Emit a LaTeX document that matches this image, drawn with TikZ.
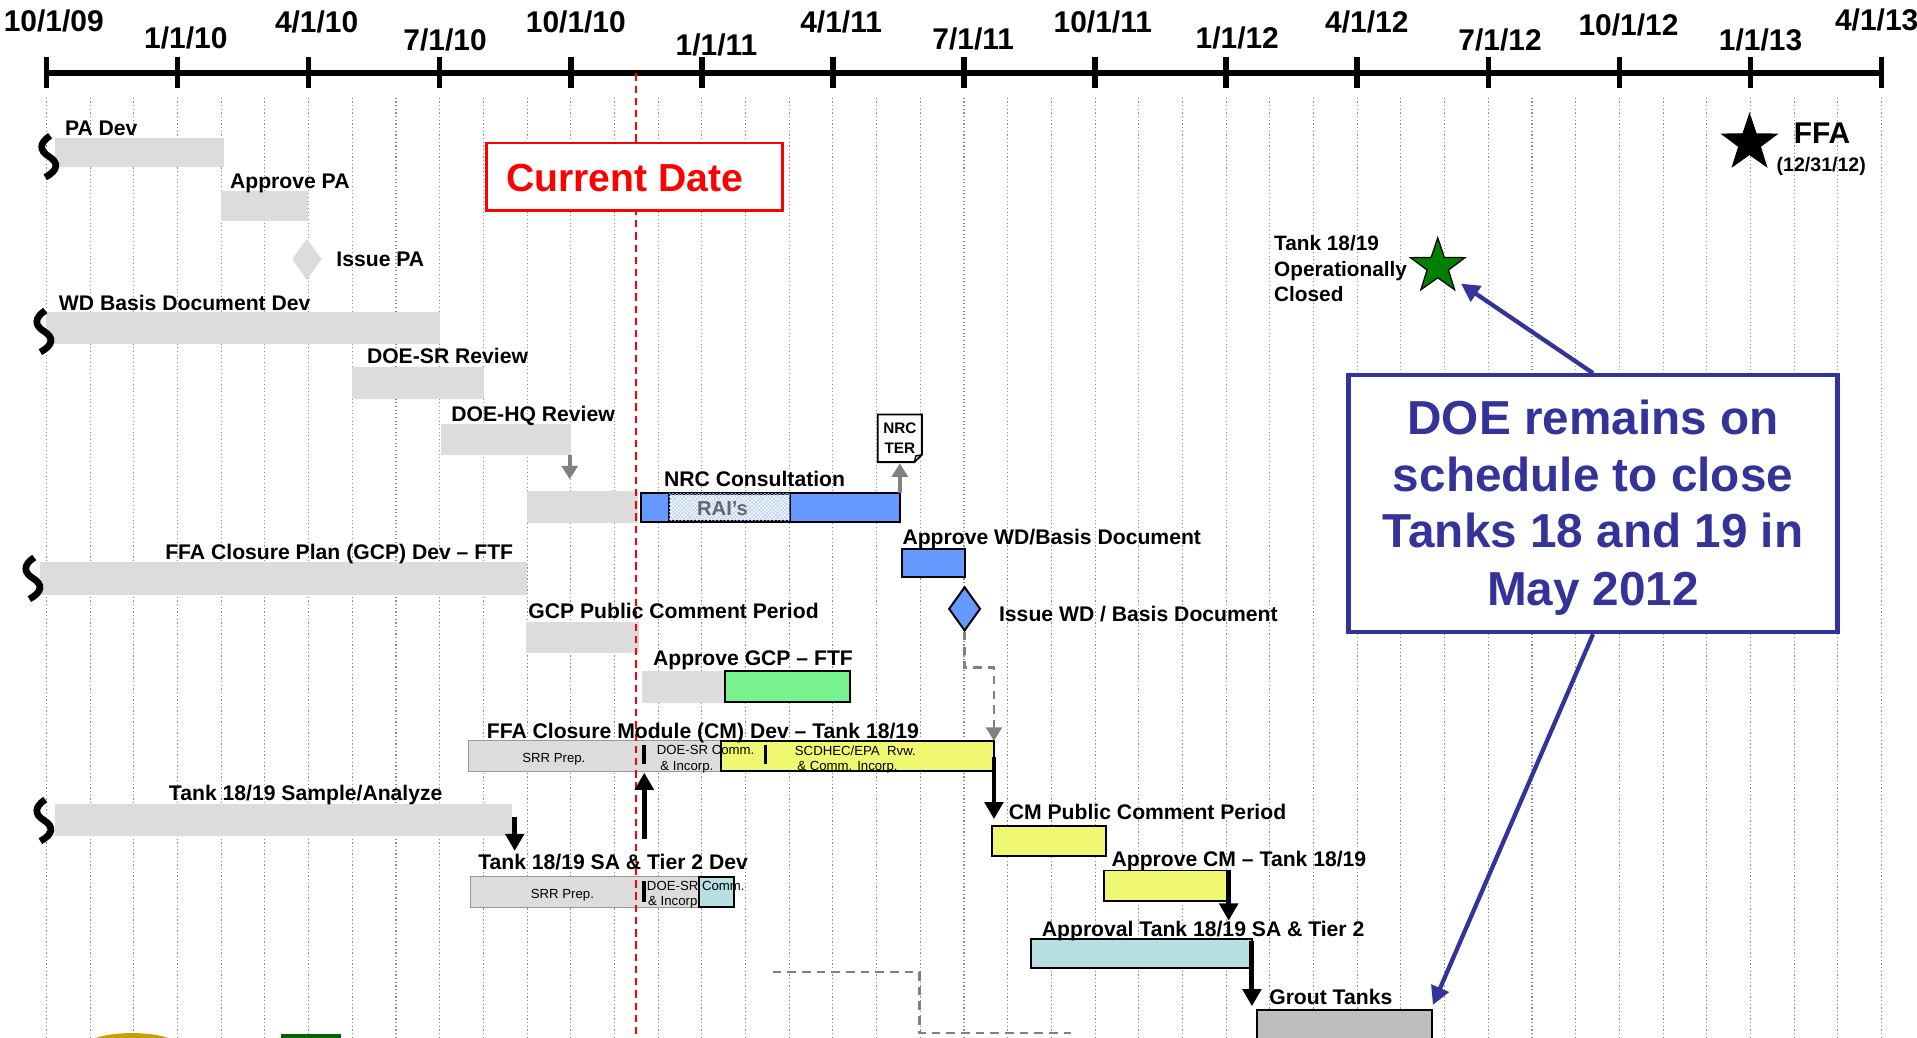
\documentclass[tikz,border=0pt]{standalone}
\usepackage{fontspec}
\setmainfont{Liberation Sans}
\usetikzlibrary{arrows.meta,shapes.geometric,patterns,calc,fit}
\definecolor{bargray}{HTML}{DCDCDC}
\definecolor{barblue}{HTML}{6699FF}
\definecolor{bargreen}{HTML}{77F28E}
\definecolor{baryellow}{HTML}{EFF870}
\definecolor{barcyan}{HTML}{B8DFE3}
\definecolor{groutgray}{HTML}{BEBEBE}
\definecolor{doeblue}{HTML}{333399}
\definecolor{gridgray}{HTML}{8C8C8C}
\definecolor{goldish}{HTML}{C9A000}
\definecolor{darkgrn}{HTML}{006400}
\definecolor{stargreen}{HTML}{008000}
\tikzset{
  gbar/.style={fill=bargray, inner sep=0pt, outer sep=0pt},
  cbar/.style={draw=black, line width=1.6pt, inner sep=0pt, outer sep=0pt},
  lbl/.style={font=\fontsize{17.3}{20}\selectfont\bfseries, anchor=base west, inner sep=0pt},
  smalltxt/.style={font=\fontsize{10.8}{12}\selectfont, anchor=base west, inner sep=0pt},
  ticklbl/.style={font=\fontsize{24.5}{28}\selectfont\bfseries, inner sep=0pt},
  blkarr/.style={line width=4pt, -{Triangle[width=15pt,length=14pt]}},
  grayarr/.style={draw=gray, line width=3.5pt, -{Triangle[width=13pt,length=11pt]}},
  dashconn/.style={draw=gray, line width=2pt, dash pattern=on 7pt off 5pt},
  doearr/.style={draw=doeblue, line width=3.5pt, -{Triangle[width=15pt,length=15pt]}},
  gridline/.style={draw=gridgray, line width=0.9pt, dash pattern=on 1pt off 2pt},
  brk/.pic={\draw[line width=5.5pt] (1,-17) .. controls (-8,-11) and (-8,-5) .. (0,0) .. controls (8,5) and (8,11) .. (-3,17);},
}
\begin{document}
\begin{tikzpicture}[x=1pt,y=-1pt]
\useasboundingbox (0,0) rectangle (1568,849);
\clip (0,0) rectangle (1568,849);
\fill[white] (0,0) rectangle (1568,849);

% monthly grid
\foreach \m in {0,...,42} \draw[gridline] ({38+35.738*\m},80) -- ({38+35.738*\m},849);

% time axis
\draw[line width=5pt] (38,60) -- (1539,60);
\foreach \m in {0,3,...,42} \draw[line width=4.5pt] ({38+35.738*\m},47) -- ({38+35.738*\m},72);
\node[ticklbl] (d0) at (44,17) {10/1/09};
\node[ticklbl] (d1) at (152,31) {1/1/10};
\node[ticklbl] (d2) at (259,18) {4/1/10};
\node[ticklbl] (d3) at (364,33) {7/1/10};
\node[ticklbl] (d4) at (471,18) {10/1/10};
\node[ticklbl] (d5) at (586,37) {1/1/11};
\node[ticklbl] (d6) at (688,18) {4/1/11};
\node[ticklbl] (d7) at (796,32) {7/1/11};
\node[ticklbl] (d8) at (902,18) {10/1/11};
\node[ticklbl] (d9) at (1012,31) {1/1/12};
\node[ticklbl] (d10) at (1118,18) {4/1/12};
\node[ticklbl] (d11) at (1227,33) {7/1/12};
\node[ticklbl] (d12) at (1332,20) {10/1/12};
\node[ticklbl] (d13) at (1440,33) {1/1/13};
\node[ticklbl] (d14) at (1535,16) {4/1/13};

% bars
\node[gbar, fit={(45,113)(183,137)}] (bPA) {};
\node[gbar, fit={(181,156)(252,181)}] (bAPA) {};
\node[diamond, fill=bargray, inner sep=0pt, minimum width=24pt, minimum height=34pt] (dPA) at (251,212) {};
\node[gbar, fit={(38,255)(360,281)}] (bWD) {};
\node[gbar, fit={(288,300)(396,326)}] (bSR) {};
\node[gbar, fit={(361,347)(467,372)}] (bHQ) {};
\node[gbar, fit={(431,402)(522,428)}] (bNRCg) {};
\node[cbar, fill=barblue, fit={(524,403)(736,427)}] (bNRC) {};
\node[cbar, fill=white, postaction={pattern=crosshatch, pattern color=barblue!55}, fit={(547,404)(646,426)}] (bRAI) {};
\node[cbar, fill=barblue, fit={(738,449)(789,472)}] (bAWD) {};
\node[diamond, draw=black, line width=1.6pt, fill=barblue, inner sep=0pt, minimum width=26pt, minimum height=36pt] (dWD) at (789,498) {};
\node[gbar, fit={(33,460)(431,487)}] (bGCP) {};
\node[gbar, fit={(430,509)(523,534)}] (bGPC) {};
\node[gbar, fit={(525,549)(593,575)}] (bAGCPg) {};
\node[cbar, fill=bargreen, fit={(593,549)(695,574)}] (bAGCP) {};
\node[gbar, draw=gray!80, line width=0.8pt, fit={(383,606)(590,631)}] (bCMg) {};
\node[cbar, fill=baryellow, fit={(590,606)(813,631)}] (bCMy) {};
\node[gbar, fit={(45,658)(419,684)}] (bSA) {};
\node[gbar, draw=gray!80, line width=0.8pt, fit={(385,717)(572,742)}] (bT2g) {};
\node[cbar, fill=barcyan, fit={(572,717)(600,742)}] (bT2) {};
\node[cbar, fill=baryellow, fit={(811,676)(905,700)}] (bCMP) {};
\node[cbar, fill=baryellow, fit={(903,712)(1005,737)}] (bACM) {};
\node[cbar, fill=barcyan, fit={(843,768)(1024,792)}] (bAT2) {};
\node[cbar, fill=groutgray, fit={(1028,826)(1171,870)}] (bGT) {};

% break symbols
\pic at (40,128) {brk};
\pic at (36,271) {brk};
\pic at (27,473) {brk};
\pic at (36,671) {brk};

% texts inside bars
\node[font=\fontsize{16.5}{18}\selectfont\bfseries, text=black!60, anchor=base, inner sep=0pt] (tRAI) at (591,422) {RAI’s};
\node[smalltxt, anchor=base] (sCM1) at (453,624) {SRR Prep.};
\node[smalltxt] (sCM2) at (537,617) {DOE-SR Comm.};
\node[smalltxt] (sCM3) at (540,630) {\& Incorp.};
\node[smalltxt] (sCM4) at (650,618) {SCDHEC/EPA\ \ Rvw.};
\node[smalltxt] (sCM5) at (652,630) {\& Comm. Incorp.};
\node[smalltxt, anchor=base] (sT1) at (460,735) {SRR Prep.};
\node[smalltxt] (sT2) at (529,728) {DOE-SR Comm.};
\node[smalltxt] (sT3) at (530,741) {\& Incorp.};
\draw[line width=3pt] (527,609) -- (527,625);
\draw[line width=3pt] (626,609) -- (626,625);
\draw[line width=3pt] (527,721) -- (527,738);

% bottom decorations
\fill[goldish] (108,857) ellipse (40 and 12);
\fill[darkgrn] (230,846) rectangle (279,856);
\draw[dashconn] (632,795) -- (752,795) -- (752,845) -- (876,845);

% current date
\draw[red, line width=1.5pt, dash pattern=on 6pt off 4pt] (520,60) -- (520,849);
\node[draw=red, line width=2pt, fill=white, inner sep=0pt, fit={(398,117)(640,172)}] (cdbox) {};
\node[font=\fontsize{32}{36}\selectfont\bfseries, text=red, anchor=base, inner sep=0pt] (cdtxt) at (511,157) {Current Date};

% NRC TER document
\draw[line width=1.5pt, fill=white] (718,339) -- (754,339) -- (754,372) -- (748,378) -- (718,378) -- cycle;
\draw[line width=1.2pt] (754,372) -- (749,373) -- (748,378);
\node[font=\fontsize{12.5}{16}\selectfont\bfseries, align=center, inner sep=0pt] (ter) at (736,358.5) {NRC\\TER};
\coordinate (terb) at (736,379);

% connectors
\coordinate (hqa) at (466,392);
\draw[grayarr] (bHQ.south east) ++(-1,0) -- (hqa);
\draw[grayarr] (bNRC.north east) -- (terb);
\draw[dashconn, -{Triangle[width=13pt,length=11pt]}] (dWD.south) -- ++(0,29) -| (bCMy.north east);
\coordinate (a1s) at (813,619); \coordinate (a1e) at (813,670);
\draw[blkarr] (a1s) -- (a1e);
\coordinate (a2s) at (421,668); \coordinate (a2e) at (421,696);
\draw[blkarr] (a2s) -- (a2e);
\coordinate (a3s) at (527,686); \coordinate (a3e) at (527,632);
\draw[blkarr] (a3s) -- (a3e);
\coordinate (a4s) at (1005,712); \coordinate (a4e) at (1005,753);
\draw[blkarr] (a4s) -- (a4e);
\coordinate (a5s) at (1024,770); \coordinate (a5e) at (1024,823);
\draw[blkarr] (a5s) -- (a5e);

% task labels
\node[lbl] (tPA) at (53,111) {PA Dev};
\node[lbl] (tAPA) at (188,154) {Approve PA};
\node[lbl] (tIPA) at (275,218) {Issue PA};
\node[lbl] (tWD) at (48,254) {WD Basis Document Dev};
\node[lbl] (tSR) at (300,297) {DOE-SR Review};
\node[lbl] (tHQ) at (369,345) {DOE-HQ Review};
\node[lbl] (tNRC) at (543,398) {NRC Consultation};
\node[lbl] (tAWD) at (738,445) {Approve WD/Basis Document};
\node[lbl] (tGCP) at (135,458) {FFA Closure Plan (GCP) Dev – FTF};
\node[lbl] (tIWD) at (817,508) {Issue WD / Basis Document};
\node[lbl] (tGPC) at (432,506) {GCP Public Comment Period};
\node[lbl] (tAGCP) at (534,544) {Approve GCP – FTF};
\node[lbl] (tCM) at (398,604) {FFA Closure Module (CM) Dev – Tank 18/19};
\node[lbl] (tSA) at (138,655) {Tank 18/19 Sample/Analyze};
\node[lbl] (tCMP) at (825,670) {CM Public Comment Period};
\node[lbl] (tACM) at (909,709) {Approve CM – Tank 18/19};
\node[lbl] (tT2) at (391,711) {Tank 18/19 SA \& Tier 2 Dev};
\node[lbl] (tAT2) at (852,766) {Approval Tank 18/19 SA \& Tier 2};
\node[lbl] (tGT) at (1038,822) {Grout Tanks};

% milestones
\node[star, star points=5, star point ratio=2.55, fill=stargreen, draw=black, line width=1pt, minimum size=47pt, inner sep=0pt] (gstar) at (1176,218) {};
\node[lbl, font=\fontsize{17}{21}\selectfont\bfseries] (tOC1) at (1042,205) {Tank 18/19};
\node[lbl, font=\fontsize{17}{21}\selectfont\bfseries] (tOC2) at (1042,226) {Operationally};
\node[lbl, font=\fontsize{17}{21}\selectfont\bfseries] (tOC3) at (1042,247) {Closed};
\node[star, star points=5, star point ratio=2.55, fill=black, draw=black, line width=1pt, minimum size=47pt, inner sep=0pt] (bstar) at (1431,117) {};
\node[lbl, font=\fontsize{24.5}{28}\selectfont\bfseries] (tFFA) at (1467,117) {FFA};
\node[lbl, font=\fontsize{16}{19}\selectfont\bfseries] (tFFAd) at (1453,140) {(12/31/12)};

% DOE callout
\node[draw=doeblue, line width=3.5pt, fill=white, inner sep=0pt, fit={(1103,307)(1503,517)}] (doebox) {};
\node[font=\fontsize{39}{46}\selectfont\bfseries, text=doeblue, anchor=base, inner sep=0pt] (doe1) at (1303,355) {DOE remains on};
\node[font=\fontsize{39}{46}\selectfont\bfseries, text=doeblue, anchor=base, inner sep=0pt] (doe2) at (1303,402) {schedule to close};
\node[font=\fontsize{39}{46}\selectfont\bfseries, text=doeblue, anchor=base, inner sep=0pt] (doe3) at (1303,448) {Tanks 18 and 19 in};
\node[font=\fontsize{39}{46}\selectfont\bfseries, text=doeblue, anchor=base, inner sep=0pt] (doe4) at (1303,495) {May 2012};
\coordinate (gtip) at (1195,232);
\coordinate (grtip) at (1172,822);
\draw[doearr] (doebox.north) -- (gtip);
\draw[doearr] (doebox.south) -- (grtip);
\end{tikzpicture}
\end{document}
